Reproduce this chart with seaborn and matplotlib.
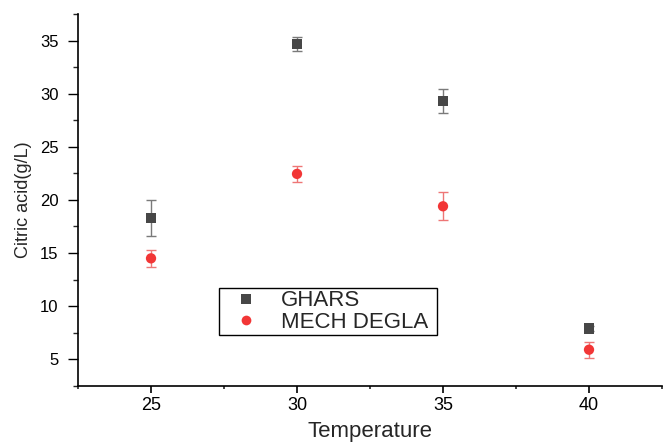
import numpy as np
import pandas as pd
import matplotlib
matplotlib.use('Agg')
import matplotlib.pyplot as plt
import seaborn as sns

# values
temperature = [25, 30, 35, 40]
ghars = [18.3, 34.7, 29.3, 7.9]
ghars_err = [1.67, 0.65, 1.1, 0.2]
mech_degla = [14.5, 22.45, 19.4, 5.9]
mech_degla_err = [0.8, 0.77, 1.33, 0.75]
varieties = ['GHARS', 'MECH DEGLA']

# long format table for seaborn
df = pd.DataFrame({
    'Temperature': temperature * 2,
    'Citric': ghars + mech_degla,
    'Err': ghars_err + mech_degla_err,
    'Variety': [varieties[0]] * 4 + [varieties[1]] * 4,
})

sns.set_style('ticks')
plt.rcParams['font.family'] = ['Liberation Sans', 'DejaVu Sans']

fig = plt.figure(figsize=(6.64, 4.42), dpi=100)
ax = fig.add_axes([0.1175, 0.1271, 0.8795, 0.8412])

point_colors = {'GHARS': '#474747', 'MECH DEGLA': '#f23636'}
bar_colors = {'GHARS': '#7a7a7a', 'MECH DEGLA': '#ee7676'}

# error bars first so the markers sit on top
for name, grp in df.groupby('Variety'):
    ax.errorbar(grp['Temperature'], grp['Citric'], yerr=grp['Err'], fmt='none',
                ecolor=bar_colors[name], elinewidth=1.0, capsize=3.6, capthick=1.0, zorder=1)

sns.scatterplot(data=df, x='Temperature', y='Citric', hue='Variety', style='Variety',
                palette=point_colors, markers={'GHARS': 's', 'MECH DEGLA': 'o'},
                s=55, linewidth=0, ax=ax, zorder=3)

old = ax.get_legend()
handles = old.legend_handles
labels = [t.get_text() for t in old.texts]
for h in handles:
    h.set_markersize(7)
leg = ax.legend(handles, labels, loc='lower left', bbox_to_anchor=(0.2414, 0.1366, 0.3733, 0.1264),
                mode='expand', borderaxespad=0, fontsize=16, frameon=True, fancybox=False,
                edgecolor='black', framealpha=1, borderpad=0.1, labelspacing=0.02,
                handlelength=2.2, handletextpad=0.5)
leg.get_frame().set_linewidth(1.0)

ax.set_xlim(22.5, 42.5)
ax.set_ylim(2.5, 37.5)
ax.set_xticks([25, 30, 35, 40])
ax.set_xticks(np.arange(22.5, 43, 5), minor=True)
ax.set_yticks([5, 10, 15, 20, 25, 30, 35])
ax.set_yticks(np.arange(2.5, 38, 5), minor=True)

sns.despine(ax=ax)
for side in ['left', 'bottom']:
    ax.spines[side].set_color('black')
    ax.spines[side].set_linewidth(1.2)

ax.tick_params(axis='x', which='major', direction='out', length=5, width=1.2, pad=3,
               labelsize=13, colors='black')
ax.tick_params(axis='x', which='minor', direction='out', length=2.5, width=1.2)
ax.tick_params(axis='y', which='major', direction='out', length=7, width=1.0, pad=7,
               labelsize=12, colors='black')
ax.tick_params(axis='y', which='minor', direction='out', length=3.5, width=1.0)

ax.set_xlabel('Temperature', fontsize=16, labelpad=5)
ax.set_ylabel('Citric acid(g/L)', fontsize=13, labelpad=6)

fig.savefig('out.png', dpi=100)
